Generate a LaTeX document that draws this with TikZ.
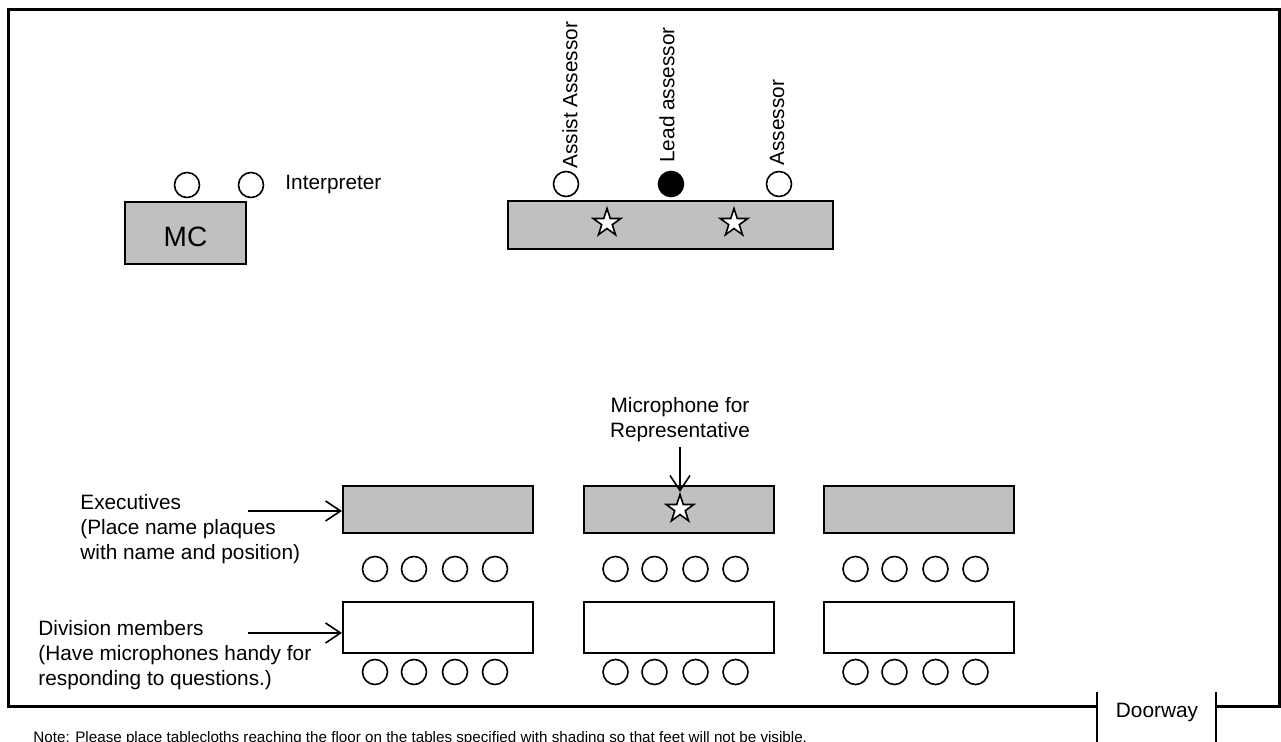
\documentclass[tikz,border=0pt]{standalone}
\usepackage{fontspec}
\setmainfont{Liberation Sans}
\usetikzlibrary{shapes.geometric,arrows.meta}
\definecolor{shade}{HTML}{C0C0C0}
\begin{document}
\begin{tikzpicture}[x=0.5pt,y=-0.5pt,
    every node/.style={font=\fontsize{10.4}{12.5}\selectfont},
    desk/.style={draw,line width=1pt,inner sep=0pt,minimum width=95pt},
    seat/.style={draw,circle,line width=0.8pt,minimum size=12.5pt,inner sep=0pt},
    mic/.style={draw,star,star points=5,star point ratio=2.618,fill=white,line width=0.8pt,minimum size=14.5pt,inner sep=0pt},
    pointer/.style={-{Straight Barb[length=7.5pt,width=10pt]},line width=0.8pt}]
\useasboundingbox (0,0) rectangle (1281,742);
% room walls and doorway
\draw[line width=1.5pt] (1097,707) -- (8,707) -- (8,10) -- (1279,10) -- (1279,707) -- (1216,707);
\draw[line width=1.3pt] (1097,692) -- (1097,742);
\draw[line width=1.3pt] (1216,692) -- (1216,742);
\node (door) at (1157,713) {Doorway};

% MC and interpreter
\node[desk,fill=shade,minimum width=60.5pt,minimum height=31pt,font=\fontsize{14}{16}\selectfont,text height=13.5pt,text depth=0pt] (mc) at (185.5,233) {MC};
\node[seat] (mcseat) at (187,185) {};
\node[seat] (interp) at (251,185) {};
\node[anchor=west,inner sep=0pt] (interplbl) at (285,185) {Interpreter};

% assessors
\node[desk,fill=shade,minimum width=162.5pt,minimum height=24pt] (judges) at (670.5,225) {};
\node[mic] (jstar1) at (607,223) {};
\node[mic] (jstar2) at (734,223) {};
\node[seat] (assist) at (566,184) {};
\node[seat,fill=black] (lead) at (671,184) {};
\node[seat] (assessor) at (779,184) {};
\node[rotate=90,anchor=west,inner sep=0pt] (assistlbl) at (570,169) {Assist Assessor};
\node[rotate=90,anchor=west,inner sep=0pt] (leadlbl) at (667,163) {Lead assessor};
\node[rotate=90,anchor=west,inner sep=0pt] (assessorlbl) at (777,166) {Assessor};

% executives and division members
\foreach \c [count=\i] in {438,678.5,918.5} {
  \node[desk,fill=shade,minimum height=23.5pt] (ex\i) at (\c,509.5) {};
  \node[desk,minimum height=25.5pt] (dv\i) at (\c,627.5) {};
  \foreach \d [count=\j] in {-63,-24,17,57} {
    \node[seat] (es\i\j) at (\c+\d,569) {};
    \node[seat] (ds\i\j) at (\c+\d,672) {};
  }
}
\node[mic] (mstar) at (680,509) {};
\node[align=center,inner sep=2pt] (miclbl) at (680,420) {Microphone for\\Representative};
\draw[pointer] (miclbl.south) -- (mstar.north);

\node[anchor=west,align=left,inner sep=0pt] (exlbl) at (80,529) {Executives\\(Place name plaques\\with name and position)};
\node[anchor=west,align=left,inner sep=0pt] (dvlbl) at (38,655) {Division members\\(Have microphones handy for\\responding to questions.)};
\coordinate (exarr) at (248,511);
\coordinate (dvarr) at (248,633);
\draw[pointer] (exarr) -- (exarr -| ex1.west);
\draw[pointer] (dvarr) -- (dvarr -| dv1.west);

% note, cut by the page edge
\node[anchor=base west,inner sep=0pt,font=\fontsize{7.6}{9}\selectfont] (note) at (33,743) {Note: Please place tablecloths reaching the floor on the tables specified with shading so that feet will not be visible.};
\end{tikzpicture}
\end{document}
